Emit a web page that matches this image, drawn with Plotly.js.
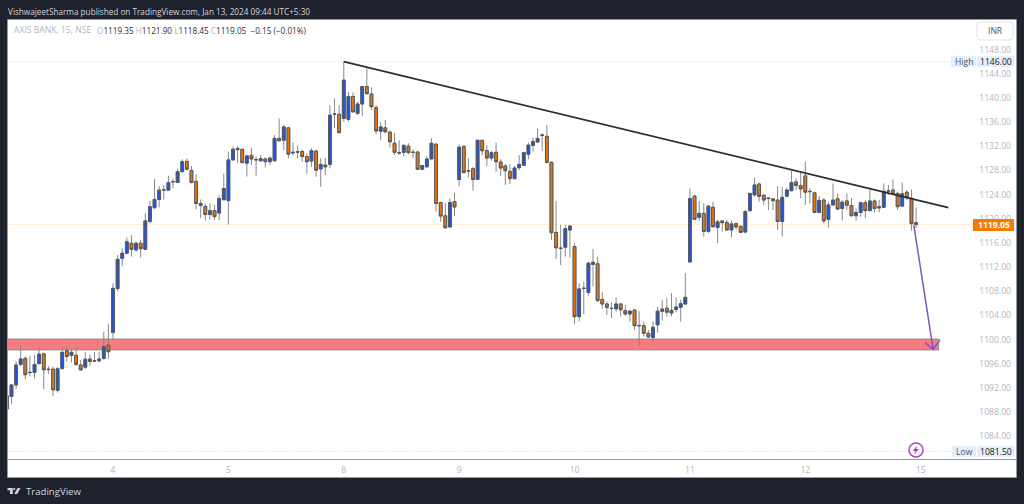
<!DOCTYPE html>
<html>
<head>
<meta charset="utf-8">
<script src="https://cdn.plot.ly/plotly-3.0.1.min.js"></script>
<style>
html, body { margin: 0; padding: 0; background: #1e222d; overflow: hidden; }
#chart { width: 1024px; height: 504px; }
</style>
</head>
<body>
<div id="chart"></div>
<script>
// 15 min bars, first bar is the cut one at the left edge
var opens = [
1088.5,1090.6,1092.5,1095.9,1096.9,1094.6,1094.55,1096.05,1097.65,1095.1,1095.1,1091.6,1095.2,1098.15,1097.4,1097.4,1095.8,1095.45,1096.8,1096.5,1096.5,1096.9,1099.1,
1101.2,1108.45,1113.45,1114.3,1115.95,1114.85,1115.95,1114.95,1119.55,1121.85,1123.2,1124.75,1124.75,1126.1,1126,1127.8,1129.5,1128,1126.2,1122.55,1122.05,1120.7,1121.35,1120.95,1123.15,
1123,1129.75,1131.65,1131.5,1129.2,1130.5,1129.75,1129.6,1129.9,1129.45,1129.6,1133.3,1133,1135.05,1130.9,1131.1,1131.15,1130.3,1129.55,1131.2,1128.25,1128.9,1129,1137.35,1137.3,
1136.6,1136.45,1140.25,1137.45,1139,1141.9,1140.65,1138.4,1134.5,1135.05,1134.35,1132.5,1130.95,1131,1132,1131,1131.05,1128.2,1128.6,1129.9,1132.35,1122.7,1120.5,1118.65,1122.85,
1126.5,1132,1127.9,1128.3,1126.5,1133,1131.3,1130.05,1131,1129.4,1128.75,1127.85,1126.65,1128.45,1128.85,1130.7,1132.15,1132.7,1133.8,1133.65,1129.35,1117.75,1115.15,1115.3,1118.15,
1115.4,1103.8,1108.45,1107.8,1112.45,1112.55,1106.65,1105.9,1105.2,1105.1,1105.9,1104.8,1104.25,1104.9,1102.35,1102.3,1101.05,1100.35,1102.45,1104.7,1105.2,1104.4,1105,1105.35,1105.9,
1112.85,1123.75,1120.25,1120.9,1117.9,1121.9,1118.55,1119.65,1119.4,1118.15,1119.2,1118.75,1117.8,1121.35,1123.95,1125.75,1123.9,1123.45,1123.3,1123.1,1119.55,1123.75,1124.65,1126.1,1125.5,
1127.1,1124.55,1124.3,1121.05,1123.1,1119.9,1122.3,1123.3,1121.7,1122.95,1122.2,1120.5,1121.05,1122.65,1121.35,1122.95,1121.8,1121.9,1124.55,1124.75,1124.2,1122.1,1124.4,1123.4,1119.35
];
var highs = [
1090.9,1092.6,1096.4,1099,1097.2,1097.3,1097.5,1098.75,1097.85,1095.65,1095.55,1095.5,1098.75,1099,1098.3,1098.75,1096.65,1098,1097.5,1098,1098,1101.3,1102.6,
1109.3,1114,1115.1,1116.9,1117.3,1116.2,1116.5,1120.9,1123,1126.55,1125.4,1125.6,1127.1,1126.6,1128.35,1129.85,1130,1128.75,1127.35,1123.2,1122.55,1122.55,1122.3,1123.9,1127.5,
1131.1,1131.95,1132.05,1131.6,1130.55,1131.75,1130.3,1130.55,1130.15,1130.3,1133.85,1136.6,1135.5,1135.2,1132.65,1132.1,1131.4,1130.8,1131.65,1131.45,1130,1130.1,1138.8,1139.9,1138.8,
1146,1141,1140.9,1139.4,1141.95,1144.9,1141.75,1138.8,1136.05,1136.35,1134.6,1134.25,1133,1132.3,1132.5,1131.5,1131.2,1128.95,1130.3,1133.3,1132.5,1122.8,1122.65,1123.4,1124.35,
1132.3,1132.05,1130,1128.6,1133,1133,1132.2,1131.25,1132.6,1129.85,1129.05,1129.05,1128.75,1130.55,1131.1,1132.6,1133.45,1134.95,1134.15,1135.55,1129.45,1122.95,1119,1119,1118.9,
1115.95,1109.35,1109.6,1112.9,1115,1113.75,1107.85,1106.3,1106.15,1107,1106,1105.75,1104.95,1105,1104.75,1103,1101.6,1103,1105.45,1106.6,1106.85,1107.7,1107,1106.6,1111,
1125,1123.95,1122.95,1122.55,1122.3,1122.8,1119.8,1119.7,1119.8,1119.7,1119.35,1118.95,1121.45,1124.3,1126.8,1126,1124.05,1123.55,1123.4,1125.4,1125.3,1125.15,1127.95,1126.7,1127.65,
1129.45,1125.05,1124.5,1123.8,1123.4,1122.85,1125.85,1124.2,1123.1,1124.2,1123.4,1121.75,1122.85,1123.1,1124.85,1123.2,1123.1,1125.85,1125.6,1126.5,1124.5,1126,1124.75,1124.85,1121.9
];
var lows = [
1087.5,1089.3,1091.8,1095.55,1093.4,1093.9,1093.6,1095.8,1091.8,1094.35,1090.7,1091.25,1095.1,1096.4,1096.2,1095.65,1094.9,1095.1,1095.65,1096.35,1096.2,1096.65,1096.8,
1100,1108,1112.1,1114.2,1113.75,1114.55,1113.6,1114.9,1119.25,1121.6,1121.9,1123.2,1124.65,1125.05,1126,1127.65,1128,1125.85,1121.55,1120.1,1119.7,1119.9,1119.8,1119.8,1123.15,
1119.05,1129.6,1129.2,1129.2,1127,1128.9,1127.15,1129.45,1128.5,1128.9,1129.55,1132.85,1131.4,1130,1130.55,1130,1129.45,1127.45,1128.6,1126.95,1125.3,1127.25,1128.35,1135,1134.25,
1136.05,1136.05,1137.6,1137.15,1137.05,1140.6,1138,1134,1133,1134.15,1131.8,1130.55,1130.55,1130.3,1130.7,1130,1128.05,1128.05,1128.5,1129.85,1121.2,1119.5,1118.35,1118.6,1120.45,
1125.4,1127.5,1126.85,1124.65,1126.5,1130.5,1128.75,1129.6,1127.8,1127.1,1125.6,1125.75,1126.5,1128.05,1128.75,1129.85,1131.1,1132.6,1131.25,1129.15,1116.5,1113.35,1112.35,1113.75,1113.6,
1102.55,1103,1104.2,1107.25,1108.8,1106.3,1105.1,1104.1,1103.55,1104.65,1103.85,1103.95,1103,1101.6,1099,1100.5,1100.25,1099.7,1101.15,1103.15,1103.85,1103.85,1104.5,1103,1105.75,
1112.85,1119.8,1119.65,1117.05,1117.6,1118.45,1115.95,1117.9,1118.05,1116.95,1118.25,1117.6,1117.7,1121.2,1123.65,1122.85,1122.3,1121.45,1121.45,1118.15,1117.05,1123.65,1124.55,1124.75,1123.4,
1122.3,1122.55,1120.9,1120.9,1119.25,1118.55,1122.1,1121.45,1119.7,1121.45,1120.4,1119.7,1120.35,1120.1,1121.2,1121.05,1121.05,1121.8,1123.95,1123.95,1121.45,1122,1123.1,1118.05,1118.45
];
var closes = [
1090.7,1092.5,1095.8,1096.8,1094.2,1094.55,1095.9,1097.6,1095,1095.05,1091.7,1095.2,1097.9,1097.2,1097.9,1095.9,1095,1096.75,1096.4,1096.45,1096.8,1098.85,1098,
1108.5,1113.3,1114.3,1116.2,1114.95,1115.95,1115.05,1119.65,1122,1123.2,1124.75,1124.8,1126,1126.15,1127.8,1129.45,1128.2,1126,1122.55,1122.2,1120.7,1121.35,1120.35,1123.35,1125,
1129.75,1131.5,1131.45,1129.3,1130.4,1129.9,1129.8,1129.95,1129.45,1130.05,1133.3,1132.9,1135.2,1130.7,1131,1131.05,1130.3,1129.45,1131.3,1128.05,1129,1128.6,1137.15,1137.3,1134.25,
1142.95,1140.25,1137.7,1139,1141.9,1140.7,1138.55,1134.55,1135.2,1134.4,1132.75,1131,1130.9,1132.15,1130.95,1131,1128.2,1128.8,1129.9,1132.5,1122.55,1120.45,1118.5,1122.7,1121.95,
1131.85,1127.65,1127.95,1126.5,1133,1131.25,1130.05,1130.95,1129.45,1128.4,1127.95,1126.65,1128.4,1129,1130.95,1132.2,1132.8,1133.3,1133.85,1129.35,1117.7,1115.2,1115.1,1118.35,1118.8,
1103.8,1108.4,1108.5,1112.65,1112.8,1106.45,1105.9,1105.35,1105.15,1105.9,1104.95,1104.25,1104.7,1102.3,1102.3,1101.05,1100.45,1102.05,1104.7,1105.05,1104.55,1104.85,1105.4,1105.95,1107,
1123.35,1119.9,1120.9,1117.9,1122.1,1118.7,1119.5,1119.35,1118.15,1119.15,1118.65,1117.75,1121.2,1124.2,1125.6,1123.7,1123.1,1123.35,1123,1119.55,1123.55,1124.75,1126,1125.5,1124.95,
1124.4,1124.5,1121.05,1123.05,1119.65,1122.3,1123.1,1121.6,1122.75,1122.25,1120.5,1121.05,1122.65,1121.35,1122.95,1121.7,1122,1124.55,1124.6,1124.05,1122,1124.15,1123.5,1119.2,1119.05
];
var firstBar = -23;

var priceTicks = [1148,1144,1140,1136,1132,1128,1124,1120,1116,1112,1108,1104,1100,1096,1092,1088,1084];
var dayTicks = [0,25,50,75,100,125,150,175];
var dayLabels = ['4','5','8','9','10','11','12','15'];

var highPrice = 1146.00;
var lowPrice = 1081.50;
var lastPrice = 1119.05;
var zoneTop = 1100.1;
var zoneBottom = 1098.3;
var zoneEnd = 178.9;

var trendX = [50, 181];
var trendY = [1146, 1121.85];
// shaft, then the two sides of the head
var arrowX = [173.5, 177.7, 176, 177.7, 179.2];
var arrowY = [1119, 1098.4, 1099.5, 1098.4, 1100];

var bars = [];
var bodyTops = [];
var bodyBottoms = [];
for (var i = 0; i < opens.length; i++) {
    bars.push(firstBar + i);
    bodyTops.push(Math.max(opens[i], closes[i]));
    bodyBottoms.push(Math.min(opens[i], closes[i]));
}

var textFont = 'Open Sans, Liberation Sans, sans-serif';
var grayText = '#b2b5be';
var darkText = '#131722';
var bodyLine = '#55585e';

// pixel position to paper position, plot box is 8..1016 x 20..478
function px(x) { return (x - 8) / 1008; }
function py(y) { return 1 - (y - 20) / 458; }

function box(x0, y0, x1, y1, fill, line) {
    return {
        type: 'rect', xref: 'paper', yref: 'paper', layer: 'above',
        x0: px(x0), x1: px(x1), y0: py(y0), y1: py(y1),
        fillcolor: fill, line: { color: line || fill, width: line ? 1 : 0 }
    };
}

function polygon(points, fill) {
    var d = points.map(function(p, n) {
        return (n ? 'L' : 'M') + px(p[0]) + ',' + py(p[1]);
    }).join(' ') + ' Z';
    return { type: 'path', xref: 'paper', yref: 'paper', layer: 'above', path: d, fillcolor: fill, line: { width: 0 } };
}

function label(x, y, text, color, size, anchor, weight) {
    return {
        xref: 'paper', yref: 'paper', x: px(x), y: py(y), text: text, showarrow: false,
        xanchor: anchor || 'left', yanchor: 'middle',
        font: { family: textFont, size: size, color: color, weight: weight || 400 },
        borderpad: 0
    };
}

// wicks first in gray, the bodies on top with their darker border
var wicks = {
    type: 'candlestick',
    x: bars, open: opens, high: highs, low: lows, close: closes,
    increasing: { line: { color: '#85888e', width: 1 }, fillcolor: '#2157d9' },
    decreasing: { line: { color: '#85888e', width: 1 }, fillcolor: '#e8730c' },
    whiskerwidth: 0,
    hoverinfo: 'skip',
    showlegend: false
};
var bodies = {
    type: 'candlestick',
    x: bars, open: opens, high: bodyTops, low: bodyBottoms, close: closes,
    increasing: { line: { color: bodyLine, width: 1 }, fillcolor: '#1f56e0' },
    decreasing: { line: { color: bodyLine, width: 1 }, fillcolor: '#ee7406' },
    whiskerwidth: 0,
    hoverinfo: 'skip',
    showlegend: false
};
var trend = {
    type: 'scatter', mode: 'lines', x: trendX, y: trendY,
    line: { color: '#2a2e39', width: 1.7 }, hoverinfo: 'skip', showlegend: false
};
var arrow = {
    type: 'scatter', mode: 'lines', x: arrowX, y: arrowY,
    line: { color: '#7e57c2', width: 1.5 }, hoverinfo: 'skip', showlegend: false
};

var shapes = [
    { type: 'rect', xref: 'x', yref: 'y', layer: 'below', x0: -23, x1: zoneEnd, y0: zoneBottom, y1: zoneTop,
      fillcolor: '#f77c80', line: { color: '#8c8c8c', width: 1 } },
    { type: 'line', xref: 'paper', yref: 'y', layer: 'below', x0: 0, x1: px(951), y0: highPrice, y1: highPrice,
      line: { color: '#d6d8de', width: 1, dash: '1px,2px' } },
    { type: 'line', xref: 'paper', yref: 'y', layer: 'below', x0: 0, x1: px(951), y0: lowPrice, y1: lowPrice,
      line: { color: '#d6d8de', width: 1, dash: '1px,2px' } },
    { type: 'line', xref: 'paper', yref: 'y', layer: 'below', x0: 0, x1: px(973), y0: lastPrice, y1: lastPrice,
      line: { color: '#fce3c8', width: 1, dash: '1px,1px' } },
    // time axis rule
    { type: 'line', xref: 'paper', yref: 'paper', layer: 'above', x0: 0, x1: 1, y0: py(459.5), y1: py(459.5),
      line: { color: '#9598a1', width: 1 } },
    // outline of the white card
    { type: 'rect', xref: 'paper', yref: 'paper', layer: 'above', x0: px(7.5), x1: px(1016.5), y0: py(477.5), y1: py(19.5),
      line: { color: '#9598a1', width: 1 } },
    box(951, 56, 976, 67, '#e3effd'),
    box(977, 56, 1014, 67, '#e3effd'),
    box(952, 446, 976, 457, '#e3effd'),
    box(977, 446, 1014, 457, '#e3effd'),
    box(973, 219, 1014, 231, '#f57c00'),
    { type: 'path', xref: 'paper', yref: 'paper', layer: 'above', fillcolor: '#ffffff',
      path: 'M' + px(980) + ',' + py(22) + ' L' + px(1010) + ',' + py(22) + ' Q' + px(1013) + ',' + py(22) + ' ' + px(1013) + ',' + py(25) +
            ' L' + px(1013) + ',' + py(37) + ' Q' + px(1013) + ',' + py(40) + ' ' + px(1010) + ',' + py(40) +
            ' L' + px(980) + ',' + py(40) + ' Q' + px(977) + ',' + py(40) + ' ' + px(977) + ',' + py(37) +
            ' L' + px(977) + ',' + py(25) + ' Q' + px(977) + ',' + py(22) + ' ' + px(980) + ',' + py(22) + ' Z',
      line: { color: '#e0e3eb', width: 1 } },
    // lightning badge
    { type: 'circle', xref: 'paper', yref: 'paper', layer: 'above', x0: px(909), x1: px(923), y0: py(457), y1: py(443),
      fillcolor: '#ffffff', line: { color: '#ab47bc', width: 1.5 } },
    polygon([[917.5,445.5],[912.5,451],[915.3,451],[914,454.5],[919,449],[916.2,449]], '#ab47bc'),
    // logo
    polygon([[7.5,488],[12.8,488],[12.8,494],[10,494],[10,490.2],[7.5,490.2]], '#d1d4dc'),
    { type: 'circle', xref: 'paper', yref: 'paper', layer: 'above', x0: px(13.2), x1: px(15.4), y0: py(490.2), y1: py(488),
      fillcolor: '#d1d4dc', line: { width: 0 } },
    polygon([[17.6,488],[20.6,488],[17.2,494],[14.2,494]], '#d1d4dc')
];

var annotations = [
    label(7, 11, 'VishwajeetSharma published on TradingView.com, Jan 13, 2024 09:44 UTC+5:30', '#d1d4dc', 8.2),
    label(13, 30, 'AXIS BANK, 15, NSE', grayText, 8.6),
    label(96, 30,
        '<span style="color:' + grayText + '">O</span>1119.35 ' +
        '<span style="color:' + grayText + '">H</span>1121.90 ' +
        '<span style="color:' + grayText + '">L</span>1118.45 ' +
        '<span style="color:' + grayText + '">C</span>1119.05  −0.15 (−0.01%)', '#2a2e39', 8.2),
    label(995, 31, 'INR', '#50535e', 8.6, 'center'),
    label(963.5, 61.5, 'High', '#50535e', 8.6, 'center'),
    label(995.5, 61.5, '1146.00', darkText, 8.6, 'center'),
    label(964, 451.5, 'Low', '#50535e', 8.6, 'center'),
    label(995.5, 451.5, '1081.50', darkText, 8.6, 'center'),
    label(993.5, 225, '1119.05', '#ffffff', 8.6, 'center', 700),
    label(25, 491, 'TradingView', '#d1d4dc', 9.6)
];

var layout = {
    width: 1024,
    height: 504,
    margin: { l: 8, r: 8, t: 20, b: 26, pad: 0 },
    paper_bgcolor: '#1e222d',
    plot_bgcolor: '#ffffff',
    boxgap: 0.14,
    showlegend: false,
    font: { family: textFont },
    xaxis: {
        type: 'linear',
        range: [-22.75, 195.65],
        rangeslider: { visible: false },
        tickmode: 'array',
        tickvals: dayTicks,
        ticktext: dayLabels,
        ticks: '',
        ticklabelposition: 'inside',
        showgrid: false,
        zeroline: false,
        showline: false,
        tickfont: { family: textFont, size: 8.6, color: grayText }
    },
    yaxis: {
        type: 'linear',
        side: 'right',
        range: [1077.1, 1152.9],
        tickmode: 'array',
        tickvals: priceTicks,
        ticktext: priceTicks.map(function(p) { return p.toFixed(2); }),
        ticks: '',
        ticklabelposition: 'inside',
        ticklabelstandoff: 2,
        showgrid: false,
        zeroline: false,
        showline: false,
        tickfont: { family: textFont, size: 8.6, color: grayText }
    },
    shapes: shapes,
    annotations: annotations
};

Plotly.newPlot('chart', [wicks, bodies, trend, arrow], layout, { displayModeBar: false, staticPlot: true });
</script>
</body>
</html>
